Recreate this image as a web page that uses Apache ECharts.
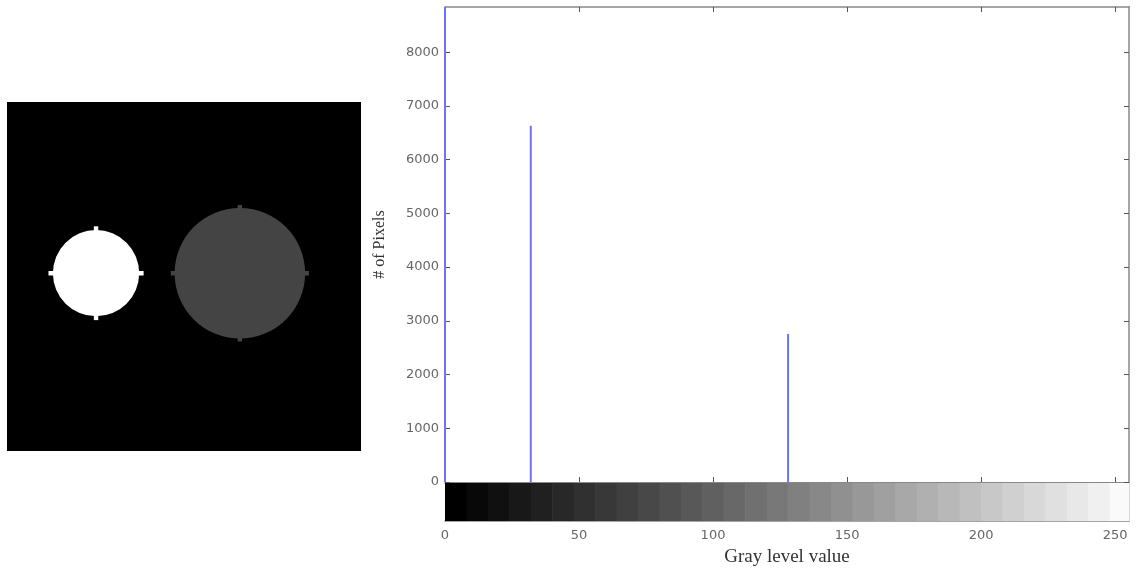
<!DOCTYPE html>
<html><head><meta charset="utf-8">
<script src="https://cdn.jsdelivr.net/npm/echarts@6/dist/echarts.min.js"></script>
<style>html,body{margin:0;padding:0;background:#fff}#c{width:1136px;height:571px}</style>
</head><body><div id="c"></div>
<script>
// Histogram stems (gray level -> pixel count); level 0 is the black background, clipped at the top
const grayLevels = [0, 32, 128];
const pixelCounts = [56150, 6630, 2756];
// Axis ticks
const xTicks = [0, 50, 100, 150, 200, 250];
const yTicks = [0, 1000, 2000, 3000, 4000, 5000, 6000, 7000, 8000];
// Colorbar stripes: start level of each stripe (each 8 levels wide) and its gray value
const stripeStarts = [0,8,16,24,32,40,48,56,64,72,80,88,96,104,112,120,128,136,144,152,160,168,176,184,192,200,208,216,224,232,240,248];
const stripeGrays  = [0,8,16,24,32,40,48,56,64,72,80,88,96,104,112,120,128,136,144,152,160,168,176,184,192,200,208,216,224,232,240,250];
// Phantom image (64x64 pixel space): circle centre x, centre y, body radius, spike radius, gray
const circleCx = [16.1, 42.1];
const circleCy = [31.4, 31.4];
const circleR = [7.8, 11.8];
const circleTip = [8.6, 12.5];
const circleGray = [255, 68];

const axisCol = '#888';
const tickCol = '#555';
const sans = 'DejaVu Sans';
const serif = 'Liberation Serif';
const plain = v => String(v);

const chart = echarts.init(document.getElementById('c'), null, {renderer: 'canvas'});
const stemData = grayLevels.map((g, i) => [g, pixelCounts[i]]);
const stripeData = stripeStarts.map((s, i) => [s, (i + 1 < stripeStarts.length ? stripeStarts[i + 1] : 256), stripeGrays[i]]);
const circleData = circleCx.map((x, i) => [x, circleCy[i], circleR[i], circleTip[i], circleGray[i]]);

chart.setOption({
  animation: false,
  backgroundColor: '#fff',
  grid: [
    {left: 445, top: 7, width: 684, height: 475, show: false},
    {left: 445, top: 483, width: 684, height: 38, show: false},
    {left: 7, top: 102, width: 354, height: 349, show: true, backgroundColor: '#000', borderWidth: 0}
  ],
  xAxis: [
    {gridIndex: 0, type: 'value', min: 0, max: 255.2, position: 'bottom',
     axisLine: {show: true, onZero: false, lineStyle: {color: axisCol}},
     axisTick: {show: true, inside: true, length: 5, customValues: xTicks, lineStyle: {color: tickCol}},
     axisLabel: {show: false}, splitLine: {show: false}},
    {gridIndex: 0, type: 'value', min: 0, max: 255.2, position: 'top',
     axisLine: {show: true, onZero: false, lineStyle: {color: axisCol, width: 1.5}},
     axisTick: {show: true, inside: true, length: 5, customValues: xTicks, lineStyle: {color: tickCol}},
     axisLabel: {show: false}, splitLine: {show: false}},
    {gridIndex: 1, type: 'value', min: 0, max: 255.2, position: 'bottom',
     axisLine: {show: true, onZero: false, lineStyle: {color: axisCol, width: 1.5}},
     axisTick: {show: true, inside: true, length: 5, customValues: xTicks, lineStyle: {color: tickCol}},
     axisLabel: {show: true, customValues: xTicks, formatter: plain, color: '#666', fontFamily: sans, fontSize: 13, margin: 8},
     splitLine: {show: false},
     name: 'Gray level value', nameLocation: 'middle', nameGap: 27,
     nameTextStyle: {fontFamily: serif, fontSize: 19, color: '#333'}},
    {gridIndex: 1, type: 'value', min: 0, max: 255.2, position: 'top',
     axisLine: {show: true, onZero: false, lineStyle: {color: '#555'}},
     axisTick: {show: true, inside: true, length: 5, customValues: xTicks, lineStyle: {color: tickCol}},
     axisLabel: {show: false}, splitLine: {show: false}},
    {gridIndex: 2, type: 'value', min: 0, max: 64, show: false}
  ],
  yAxis: [
    {gridIndex: 0, type: 'value', min: 0, max: 8840, position: 'left',
     axisLine: {show: true, onZero: false, lineStyle: {color: axisCol}},
     axisTick: {show: true, inside: true, length: 5, customValues: yTicks, lineStyle: {color: tickCol}},
     axisLabel: {show: true, customValues: yTicks, formatter: plain, color: '#666', fontFamily: sans, fontSize: 13, margin: 6},
     splitLine: {show: false},
     name: '# of Pixels', nameLocation: 'middle', nameGap: 57, nameRotate: 90,
     nameTextStyle: {fontFamily: serif, fontSize: 16, color: '#333'}},
    {gridIndex: 0, type: 'value', min: 0, max: 8840, position: 'right',
     axisLine: {show: true, onZero: false, lineStyle: {color: axisCol, width: 1.5}},
     axisTick: {show: true, inside: true, length: 5, customValues: yTicks, lineStyle: {color: tickCol}},
     axisLabel: {show: false}, splitLine: {show: false}},
    {gridIndex: 1, type: 'value', min: 0, max: 1, position: 'left',
     axisLine: {show: true, onZero: false, lineStyle: {color: axisCol}},
     axisTick: {show: false}, axisLabel: {show: false}, splitLine: {show: false}},
    {gridIndex: 1, type: 'value', min: 0, max: 1, position: 'right',
     axisLine: {show: true, onZero: false, lineStyle: {color: axisCol, width: 1.5}},
     axisTick: {show: true, inside: true, length: 5, customValues: [0.5], lineStyle: {color: tickCol}},
     axisLabel: {show: false}, splitLine: {show: false}},
    {gridIndex: 2, type: 'value', min: 0, max: 64, inverse: true, show: false}
  ],
  series: [
    {type: 'custom', xAxisIndex: 2, yAxisIndex: 2, data: stripeData, z: 1,
     renderItem: function (params, api) {
       const a = api.coord([api.value(0), 1]);
       const b = api.coord([Math.min(api.value(1), 255.2), 0]);
       const g = api.value(2);
       return {type: 'rect', shape: {x: a[0], y: a[1], width: b[0] - a[0] + 0.6, height: b[1] - a[1]},
               style: {fill: 'rgb(' + g + ',' + g + ',' + g + ')'}};
     }},
    {type: 'bar', xAxisIndex: 0, yAxisIndex: 0, data: stemData, barWidth: 2, clip: true,
     itemStyle: {color: '#7070ff'}, z: 3},
    {type: 'custom', xAxisIndex: 4, yAxisIndex: 4, data: circleData,
     renderItem: function (params, api) {
       const cx = api.value(0), cy = api.value(1), r = api.value(2), tip = api.value(3), g = api.value(4);
       const c = api.coord([cx, cy]);
       const rx = api.coord([cx + r, cy])[0] - c[0];
       const tx = api.coord([cx + tip, cy])[0] - c[0];
       const ty = api.coord([cx, cy + tip])[1] - c[1];
       const w = api.size([0.8, 0.8]);
       const col = 'rgb(' + g + ',' + g + ',' + g + ')';
       return {type: 'group', children: [
         {type: 'circle', shape: {cx: c[0], cy: c[1], r: rx}, style: {fill: col}},
         {type: 'rect', shape: {x: c[0] - w[0] / 2, y: c[1] - ty, width: w[0], height: 2 * ty}, style: {fill: col}},
         {type: 'rect', shape: {x: c[0] - tx, y: c[1] - w[1] / 2, width: 2 * tx, height: w[1]}, style: {fill: col}}
       ]};
     }}
  ]
});
</script>
</body></html>
